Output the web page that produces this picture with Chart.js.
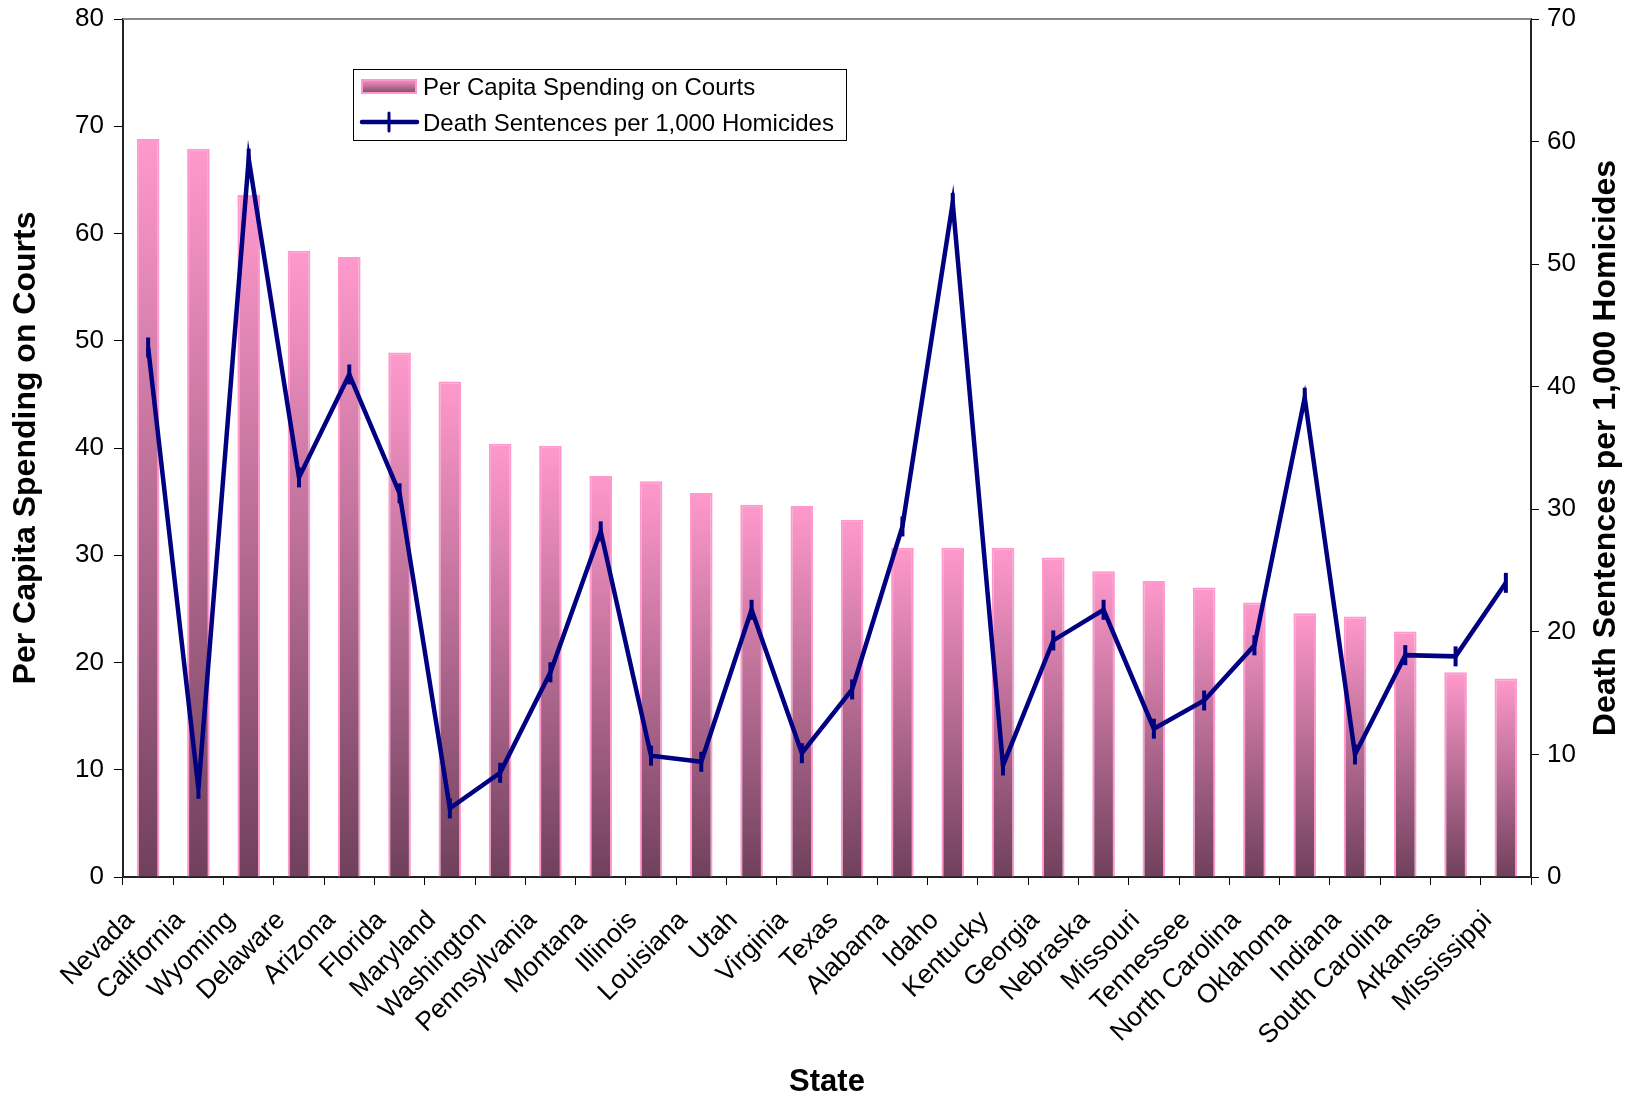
<!DOCTYPE html>
<html>
<head>
<meta charset="utf-8">
<script src="https://cdn.jsdelivr.net/npm/chart.js@4.4.1/dist/chart.umd.min.js"></script>
<style>
  html, body { margin: 0; padding: 0; background: #fff; }
  #wrap { width: 1627px; height: 1095px; }
</style>
</head>
<body>
<div id="wrap"><canvas id="chart" width="1627" height="1095"></canvas></div>
<script>
const states = ['Nevada', 'California', 'Wyoming', 'Delaware', 'Arizona', 'Florida', 'Maryland',
  'Washington', 'Pennsylvania', 'Montana', 'Illinois', 'Louisiana', 'Utah', 'Virginia', 'Texas',
  'Alabama', 'Idaho', 'Kentucky', 'Georgia', 'Nebraska', 'Missouri', 'Tennessee', 'North Carolina',
  'Oklahoma', 'Indiana', 'South Carolina', 'Arkansas', 'Mississippi'];

// per capita spending on courts (left axis)
const spending = [68.8, 67.9, 63.6, 58.4, 57.8, 48.9, 46.2, 40.4, 40.2, 37.4, 36.9, 35.8, 34.7, 34.6,
  33.3, 30.7, 30.7, 30.7, 29.8, 28.5, 27.6, 27.0, 25.6, 24.6, 24.3, 22.9, 19.1, 18.5];

// death sentences per 1,000 homicides (right axis)
const deathSentences = [43.2, 7.2, 58.6, 32.6, 41.0, 31.3, 5.6, 8.5, 16.7, 28.2, 9.9, 9.4, 21.8, 10.1,
  15.3, 28.6, 55.0, 9.1, 19.3, 21.8, 12.1, 14.4, 18.9, 39.1, 10.0, 18.1, 18.0, 24.0];

const leftMax = 80;
const rightMax = 70;
const rightTitle = 'Death Sentences per 1,000 Homicides';

const FONT = '"Liberation Sans", Arial, sans-serif';
const PINK = '#ff99cc';
const DARK = '#70405c';
const NAVY = '#000080';

function barGradient(ctx) {
  const chart = ctx.chart;
  if (!chart.chartArea || ctx.type !== 'data') return PINK;
  const ys = chart.scales.y;
  const top = ys.getPixelForValue(ctx.raw);
  const base = ys.getPixelForValue(0);
  const g = chart.ctx.createLinearGradient(0, top, 0, base);
  g.addColorStop(0, PINK);
  g.addColorStop(1, DARK);
  return g;
}

// gray top edge of the plot area + right title reading bottom-to-top
const frameExtras = {
  id: 'frameExtras',
  afterDraw(chart) {
    const { ctx, chartArea } = chart;
    ctx.save();
    ctx.strokeStyle = '#888';
    ctx.lineWidth = 2;
    ctx.beginPath();
    ctx.moveTo(chartArea.left, chartArea.top);
    ctx.lineTo(chartArea.right, chartArea.top);
    ctx.stroke();

    ctx.translate(1606, (chartArea.top + chartArea.bottom) / 2);
    ctx.rotate(-Math.PI / 2);
    ctx.fillStyle = '#000';
    ctx.font = 'bold 32px ' + FONT;
    ctx.textAlign = 'center';
    ctx.textBaseline = 'middle';
    ctx.fillText(rightTitle, 0, 0);
    ctx.restore();
  }
};

// boxed legend inside the plot, like the Excel one
const boxLegend = {
  id: 'boxLegend',
  afterDraw(chart) {
    const c = chart.ctx;
    const x = 353, y = 69, w = 493, h = 71;
    c.save();
    c.fillStyle = '#fff';
    c.fillRect(x, y, w, h);
    c.strokeStyle = '#000';
    c.lineWidth = 1;
    c.strokeRect(x + 0.5, y + 0.5, w, h);

    // bar swatch
    const g = c.createLinearGradient(0, 79, 0, 95);
    g.addColorStop(0, PINK);
    g.addColorStop(1, DARK);
    c.fillStyle = g;
    c.fillRect(361, 79, 56, 15);
    c.strokeStyle = PINK;
    c.lineWidth = 2;
    c.strokeRect(362, 80, 54, 13);

    // line swatch
    c.strokeStyle = NAVY;
    c.lineWidth = 4.5;
    c.lineCap = 'round';
    c.beginPath();
    c.moveTo(362, 122);
    c.lineTo(417, 122);
    c.stroke();
    c.lineWidth = 3;
    c.beginPath();
    c.moveTo(389, 113);
    c.lineTo(389, 131);
    c.stroke();

    c.fillStyle = '#000';
    c.font = '24px ' + FONT;
    c.textBaseline = 'alphabetic';
    c.fillText('Per Capita Spending on Courts', 423, 95);
    c.fillText('Death Sentences per 1,000 Homicides', 423, 131);
    c.restore();
  }
};

new Chart(document.getElementById('chart'), {
  type: 'bar',
  data: {
    labels: states,
    datasets: [
      {
        type: 'line',
        label: 'Death Sentences per 1,000 Homicides',
        data: deathSentences,
        yAxisID: 'y1',
        order: 0,
        borderColor: NAVY,
        borderWidth: 4.5,
        tension: 0,
        pointStyle: 'line',
        rotation: 90,
        pointRadius: 10,
        pointBorderWidth: 4,
        pointBorderColor: NAVY,
        pointBackgroundColor: NAVY
      },
      {
        label: 'Per Capita Spending on Courts',
        data: spending,
        yAxisID: 'y',
        order: 1,
        backgroundColor: barGradient,
        borderColor: PINK,
        borderWidth: 2,
        borderSkipped: 'bottom',
        barPercentage: 0.45,
        categoryPercentage: 1
      }
    ]
  },
  options: {
    responsive: false,
    devicePixelRatio: 1,
    animation: false,
    layout: { padding: { top: 19, left: 0, right: 0, bottom: 0 } },
    plugins: {
      legend: { display: false },
      tooltip: { enabled: false }
    },
    scales: {
      x: {
        offset: true,
        grid: { offset: true, drawOnChartArea: false, drawTicks: true, tickLength: 8, color: '#000' },
        border: { color: '#222', width: 2 },
        ticks: {
          color: '#000',
          font: { family: FONT, size: 26.5 },
          minRotation: 45,
          maxRotation: 45,
          autoSkip: false,
          padding: 20,
          labelOffset: -18
        },
        title: {
          display: true,
          text: 'State',
          color: '#000',
          font: { family: FONT, size: 31, weight: 'bold', lineHeight: 1 },
          padding: { top: 0, bottom: -3 }
        },
        afterFit: s => { s.height = 218; }
      },
      y: {
        position: 'left',
        min: 0,
        max: leftMax,
        grid: { drawOnChartArea: false, drawTicks: true, tickLength: 9, color: '#000' },
        border: { color: '#222', width: 2 },
        ticks: {
          stepSize: 10,
          color: '#000',
          font: { family: FONT, size: 26 },
          padding: 10
        },
        title: {
          display: true,
          text: 'Per Capita Spending on Courts',
          color: '#000',
          font: { family: FONT, size: 32, weight: 'bold' },
          padding: { top: 7, bottom: 0 }
        },
        afterFit: s => { s.width = 123; s.paddingTop = 0; s.paddingBottom = 0; }
      },
      y1: {
        position: 'right',
        min: 0,
        max: rightMax,
        grid: { drawOnChartArea: false, drawTicks: true, tickLength: 8, color: '#000' },
        border: { color: '#222', width: 2 },
        ticks: {
          stepSize: 10,
          color: '#000',
          font: { family: FONT, size: 26 },
          padding: 8
        },
        title: { display: false },
        afterFit: s => { s.width = 96; s.paddingTop = 0; s.paddingBottom = 0; }
      }
    }
  },
  plugins: [frameExtras, boxLegend]
});
</script>
</body>
</html>
